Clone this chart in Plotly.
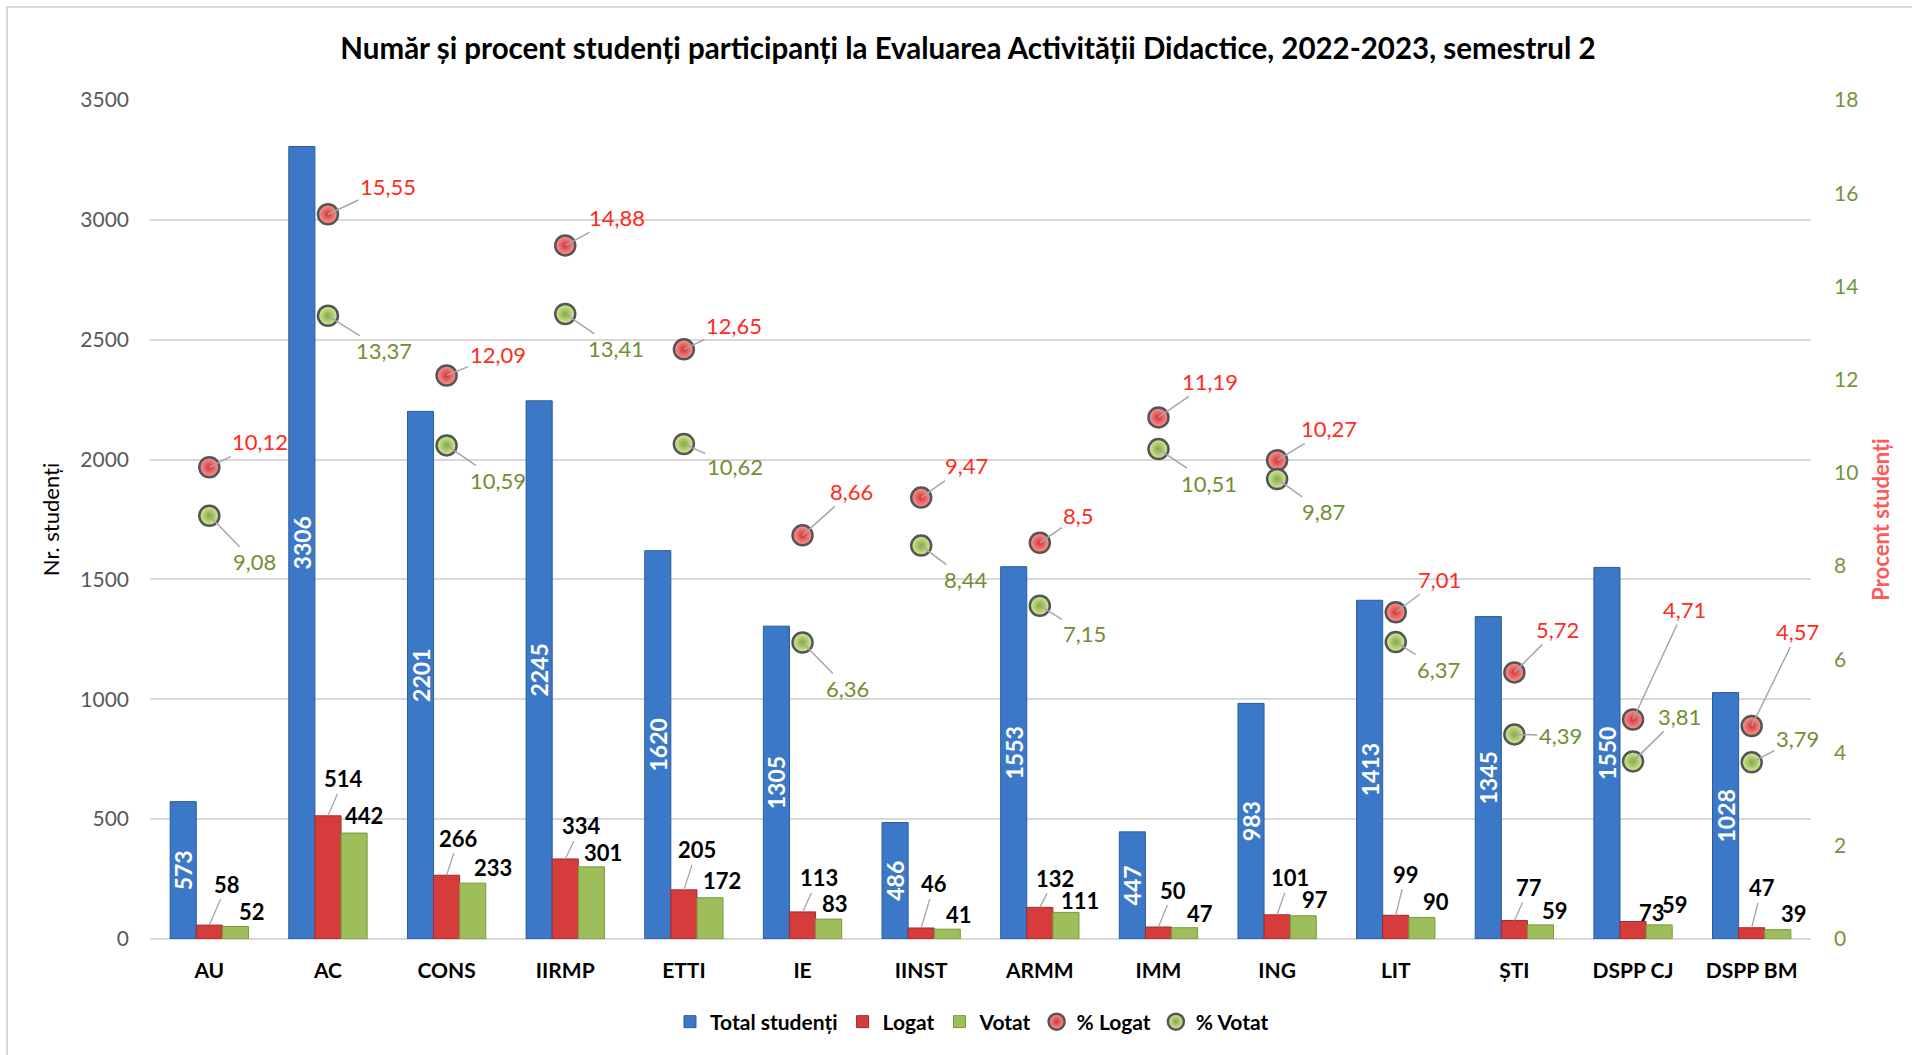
import plotly.graph_objects as go

# ---- data ----
categories = ["AU", "AC", "CONS", "IIRMP", "ETTI", "IE", "IINST", "ARMM",
              "IMM", "ING", "LIT", "ȘTI", "DSPP CJ", "DSPP BM"]
total_studenti = [573, 3306, 2201, 2245, 1620, 1305, 486, 1553, 447, 983, 1413, 1345, 1550, 1028]
logat = [58, 514, 266, 334, 205, 113, 46, 132, 50, 101, 99, 77, 73, 47]
votat = [52, 442, 233, 301, 172, 83, 41, 111, 47, 97, 90, 59, 59, 39]
pct_logat = [10.12, 15.55, 12.09, 14.88, 12.65, 8.66, 9.47, 8.5, 11.19, 10.27, 7.01, 5.72, 4.71, 4.57]
pct_votat = [9.08, 13.37, 10.59, 13.41, 10.62, 6.36, 8.44, 7.15, 10.51, 9.87, 6.37, 4.39, 3.81, 3.79]

# ---- label placement (pixel offsets from the mark) ----
logat_lbl_off = [(18, -41), (16, -37), (12, -37), (16, -33), (13, -40), (16, -34), (13, -44),
                 (15, -29), (15, -37), (13, -37), (10, -41), (15, -33), (19, -9), (10, -40)]
logat_lbl_arrow = [True] * 12 + [False, True]
votat_lbl_off = [(17, -15), (10, -18), (20, -16), (12, -14), (12, -17), (6, -16), (12, -15),
                 (14, -12), (15, -14), (12, -16), (14, -16), (15, -14), (16, -20), (16, -16)]
pl_off = [(51, -26), (60, -28), (51, -21), (52, -28), (50, -24), (49, -44), (45, -32),
          (39, -27), (52, -36), (52, -32), (44, -33), (43, -43), (51, -110), (46, -94)]
pv_off = [(45, 46), (56, 35), (51, 35), (51, 35), (51, 23), (45, 46), (45, 34),
          (45, 28), (51, 34), (46, 33), (43, 27), (46, 1), (46, -45), (46, -24)]

FONT = "Lato"
W, H = 1912, 1055
ML, MR, MT, MB = 150, 101, 100, 116
PW, PH = W - ML - MR, H - MT - MB

BLUE, BLUE_EDGE = "#3B78C7", "#2B5C9C"
RED, RED_EDGE = "#D63C3C", "#A52A2A"
GREEN, GREEN_EDGE = "#9DBE5A", "#789A3A"
PCT_RED_TXT = "#FF2B1C"
PCT_GREEN_TXT = "#6F8F32"
LEADER = "#A6A6A6"

x_idx = list(range(len(categories)))
bar_w = 0.22


def px_to_paper_x(px):
    return (px - ML) / PW


def px_to_paper_y(py):
    return (H - MB - py) / PH


fig = go.Figure()

fig.add_trace(go.Bar(
    x=x_idx, y=total_studenti, name="Total studenți",
    marker=dict(color=BLUE, line=dict(color=BLUE_EDGE, width=1)),
    text=total_studenti, texttemplate="%{text}",
    textposition="inside", insidetextanchor="middle", textangle=-90,
    constraintext="none",
    textfont=dict(family=FONT, size=23, color="white", weight="bold"),
    hoverinfo="skip",
))
fig.add_trace(go.Bar(
    x=x_idx, y=logat, name="Logat",
    marker=dict(color=RED, line=dict(color=RED_EDGE, width=1)),
    hoverinfo="skip",
))
fig.add_trace(go.Bar(
    x=x_idx, y=votat, name="Votat",
    marker=dict(color=GREEN, line=dict(color=GREEN_EDGE, width=1)),
    hoverinfo="skip",
))
fig.add_trace(go.Scatter(
    x=x_idx, y=pct_logat, name="% Logat", yaxis="y2", mode="markers",
    marker=dict(size=20, color="#FF9A9A",
                gradient=dict(type="radial", color="#D23434"),
                line=dict(color="#555555", width=2.5)),
    hoverinfo="skip",
))
fig.add_trace(go.Scatter(
    x=x_idx, y=pct_votat, name="% Votat", yaxis="y2", mode="markers",
    marker=dict(size=20, color="#D8EEA0",
                gradient=dict(type="radial", color="#84A83E"),
                line=dict(color="#555555", width=2.5)),
    hoverinfo="skip",
))

annotations = []
bar_lbl_font = dict(family=FONT, size=22, color="black", weight="bold")

for i in x_idx:
    dx, dy = logat_lbl_off[i]
    if logat_lbl_arrow[i]:
        annotations.append(dict(
            x=i, y=logat[i], xref="x", yref="y", text=str(logat[i]),
            showarrow=True, arrowhead=0, arrowwidth=1.3, arrowcolor=LEADER,
            ax=dx, ay=dy, font=bar_lbl_font, standoff=0))
    else:
        annotations.append(dict(
            x=i, y=logat[i], xref="x", yref="y", text=str(logat[i]),
            showarrow=False, xshift=dx, yshift=-dy, font=bar_lbl_font))
    dx, dy = votat_lbl_off[i]
    annotations.append(dict(
        x=i + bar_w, y=votat[i], xref="x", yref="y", text=str(votat[i]),
        showarrow=False, xshift=dx, yshift=-dy, font=bar_lbl_font))


def fmt(v):
    return f"{v:g}".replace(".", ",")


for i in x_idx:
    dx, dy = pl_off[i]
    annotations.append(dict(
        x=i, y=pct_logat[i], xref="x", yref="y2", text=fmt(pct_logat[i]),
        showarrow=True, arrowhead=0, arrowwidth=1.5, arrowcolor=LEADER,
        ax=dx, ay=dy, standoff=0,
        font=dict(family=FONT, size=22, color=PCT_RED_TXT)))
    dx, dy = pv_off[i]
    annotations.append(dict(
        x=i, y=pct_votat[i], xref="x", yref="y2", text=fmt(pct_votat[i]),
        showarrow=True, arrowhead=0, arrowwidth=1.5, arrowcolor=LEADER,
        ax=dx, ay=dy, standoff=0,
        font=dict(family=FONT, size=22, color=PCT_GREEN_TXT)))

fig.update_layout(
    width=W, height=H,
    margin=dict(l=ML, r=MR, t=MT, b=MB, pad=0),
    paper_bgcolor="white", plot_bgcolor="white",
    barmode="group", bargap=0.34, bargroupgap=0,
    font=dict(family=FONT, color="#404040"),
    title=dict(
        text="Număr și procent studenți participanți la Evaluarea Activității Didactice, 2022-2023, semestrul 2",
        x=968 / W, xref="container", xanchor="center",
        y=1 - 49 / H, yref="container", yanchor="middle",
        font=dict(family=FONT, size=29.5, color="black", weight="bold"),
    ),
    xaxis=dict(
        range=[-0.5, len(categories) - 0.5],
        tickmode="array", tickvals=x_idx, ticktext=categories,
        showgrid=False, zeroline=False, showline=False, ticks="",
        tickfont=dict(family=FONT, size=21, color="black", weight="bold"),
        ticklabelstandoff=17,
    ),
    yaxis=dict(
        range=[0, 3500], dtick=500, tick0=0,
        showgrid=True, gridcolor="#D9D9D9", gridwidth=1.5,
        zeroline=True, zerolinecolor="#D9D9D9", zerolinewidth=1.5,
        showline=False, ticks="",
        tickfont=dict(family=FONT, size=21, color="#595959"),
        ticklabelstandoff=20,
        title=dict(text="Nr. studenți", standoff=14,
                   font=dict(family=FONT, size=22, color="black")),
    ),
    yaxis2=dict(
        range=[0, 18], dtick=2, tick0=0, overlaying="y", side="right",
        showgrid=False, zeroline=False, showline=False, ticks="",
        tickfont=dict(family=FONT, size=21, color="#77933C"),
        ticklabelstandoff=22,
        title=dict(text="Procent studenți", standoff=16,
                   font=dict(family=FONT, size=22, color="#FF5A5A", weight="bold")),
    ),
    legend=dict(
        orientation="h", x=px_to_paper_x(972), xanchor="center",
        y=px_to_paper_y(1022), yanchor="middle",
        font=dict(family=FONT, size=21, color="black", weight="bold"),
        itemwidth=30, tracegroupgap=0, bgcolor="rgba(0,0,0,0)",
    ),
    annotations=annotations,
    shapes=[dict(
        type="rect", xref="paper", yref="paper",
        x0=px_to_paper_x(7), x1=px_to_paper_x(1930),
        y0=px_to_paper_y(1070), y1=px_to_paper_y(7),
        line=dict(color="#D9D9D9", width=2), fillcolor="rgba(0,0,0,0)",
        layer="below",
    )],
)

fig.write_html("out.html")
